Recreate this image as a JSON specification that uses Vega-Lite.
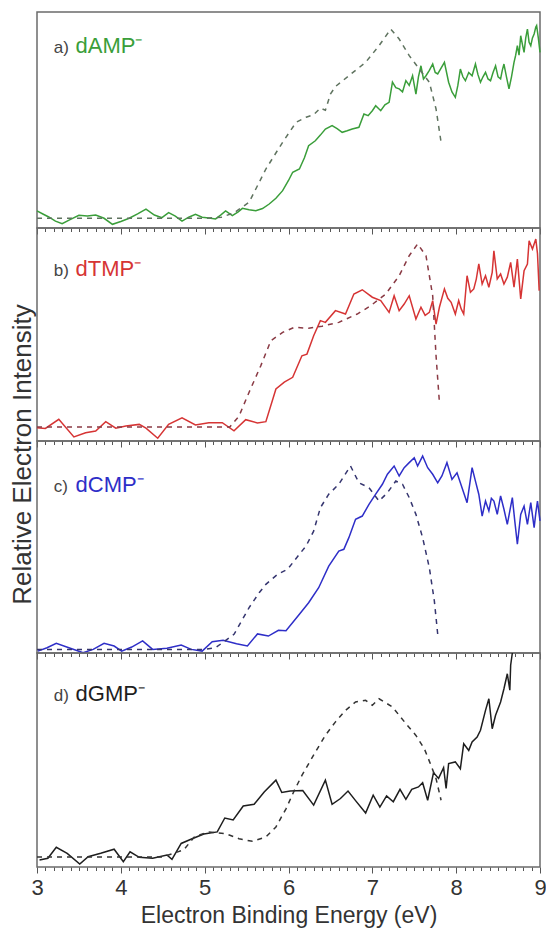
{
  "$schema": "https://vega.github.io/schema/vega-lite/v6.json",
  "padding": {"left": 8, "top": 11, "right": 0, "bottom": 0},
  "spacing": 0,
  "bounds": "flush",
  "config": {
    "font": "Liberation Sans",
    "view": {"stroke": "#6b6b6b", "strokeWidth": 1.5}
  },
  "resolve": {"scale": {"x": "independent", "y": "independent"}, "axis": {"x": "independent", "y": "independent"}},
  "datasets": {
    "a_s": [{"E":3.00,"I":7.9},{"E":3.07,"I":6.5},{"E":3.14,"I":5.1},{"E":3.22,"I":3.2},{"E":3.30,"I":2.0},{"E":3.40,"I":4.0},{"E":3.50,"I":5.9},{"E":3.60,"I":5.6},{"E":3.70,"I":6.0},{"E":3.80,"I":4.5},{"E":3.90,"I":1.7},{"E":4.00,"I":3.0},{"E":4.10,"I":4.5},{"E":4.20,"I":6.5},{"E":4.30,"I":8.7},{"E":4.40,"I":6.0},{"E":4.49,"I":4.8},{"E":4.57,"I":7.1},{"E":4.65,"I":5.5},{"E":4.73,"I":3.2},{"E":4.81,"I":5.0},{"E":4.89,"I":6.3},{"E":4.97,"I":5.0},{"E":5.05,"I":4.6},{"E":5.13,"I":4.2},{"E":5.19,"I":6.0},{"E":5.25,"I":7.9},{"E":5.33,"I":5.7},{"E":5.40,"I":7.5},{"E":5.45,"I":9.1},{"E":5.53,"I":8.5},{"E":5.61,"I":8.0},{"E":5.69,"I":9.0},{"E":5.77,"I":11.1},{"E":5.85,"I":13.8},{"E":5.93,"I":17.3},{"E":6.00,"I":22.0},{"E":6.05,"I":25.8},{"E":6.13,"I":27.3},{"E":6.19,"I":32.5},{"E":6.24,"I":38.1},{"E":6.32,"I":40.4},{"E":6.38,"I":43.0},{"E":6.44,"I":45.8},{"E":6.52,"I":47.4},{"E":6.58,"I":46.0},{"E":6.64,"I":44.3},{"E":6.70,"I":45.0},{"E":6.76,"I":45.8},{"E":6.84,"I":46.6},{"E":6.90,"I":52.8},{"E":6.95,"I":52.0},{"E":7.00,"I":54.3},{"E":7.04,"I":56.6},{"E":7.10,"I":54.3},{"E":7.15,"I":57.0},{"E":7.20,"I":58.2},{"E":7.24,"I":67.5},{"E":7.28,"I":65.0},{"E":7.32,"I":64.4},{"E":7.36,"I":63.0},{"E":7.40,"I":68.2},{"E":7.44,"I":66.0},{"E":7.48,"I":70.5},{"E":7.52,"I":62.0},{"E":7.55,"I":70.0},{"E":7.58,"I":75.1},{"E":7.61,"I":69.0},{"E":7.64,"I":70.5},{"E":7.68,"I":73.0},{"E":7.72,"I":75.9},{"E":7.75,"I":72.0},{"E":7.78,"I":71.3},{"E":7.82,"I":74.0},{"E":7.86,"I":76.7},{"E":7.91,"I":67.5},{"E":7.95,"I":63.0},{"E":7.99,"I":60.5},{"E":8.02,"I":66.0},{"E":8.05,"I":73.6},{"E":8.08,"I":70.0},{"E":8.11,"I":68.2},{"E":8.15,"I":72.0},{"E":8.19,"I":70.5},{"E":8.23,"I":75.9},{"E":8.26,"I":71.0},{"E":8.29,"I":67.5},{"E":8.32,"I":70.0},{"E":8.35,"I":72.1},{"E":8.38,"I":69.0},{"E":8.41,"I":68.2},{"E":8.44,"I":72.0},{"E":8.47,"I":75.1},{"E":8.50,"I":70.0},{"E":8.53,"I":69.0},{"E":8.55,"I":73.0},{"E":8.57,"I":75.9},{"E":8.60,"I":70.0},{"E":8.63,"I":64.4},{"E":8.66,"I":70.0},{"E":8.69,"I":76.7},{"E":8.71,"I":80.0},{"E":8.73,"I":84.4},{"E":8.75,"I":80.0},{"E":8.77,"I":89.0},{"E":8.79,"I":85.0},{"E":8.81,"I":81.3},{"E":8.83,"I":88.0},{"E":8.85,"I":92.1},{"E":8.87,"I":86.0},{"E":8.89,"I":84.4},{"E":8.91,"I":88.0},{"E":8.93,"I":89.8},{"E":8.95,"I":93.0},{"E":8.96,"I":93.7},{"E":8.98,"I":88.0},{"E":9.00,"I":81.3}],
    "a_d": [{"E":3.0,"I":4.5},{"E":3.5,"I":4.5},{"E":4.0,"I":4.5},{"E":4.5,"I":4.5},{"E":5.0,"I":4.5},{"E":5.2,"I":5.0},{"E":5.35,"I":7.0},{"E":5.53,"I":11.9},{"E":5.73,"I":27.3},{"E":5.93,"I":39.7},{"E":6.09,"I":48.9},{"E":6.21,"I":51.3},{"E":6.30,"I":52.5},{"E":6.38,"I":55.5},{"E":6.44,"I":54.5},{"E":6.50,"I":62.0},{"E":6.56,"I":65.5},{"E":6.72,"I":70.5},{"E":6.92,"I":76.7},{"E":7.08,"I":84.4},{"E":7.22,"I":92.1},{"E":7.32,"I":87.5},{"E":7.44,"I":79.8},{"E":7.56,"I":73.6},{"E":7.68,"I":67.5},{"E":7.76,"I":55.1},{"E":7.82,"I":39.7}],
    "b_s": [{"E":3.00,"I":6.2},{"E":3.10,"I":5.9},{"E":3.26,"I":10.2},{"E":3.44,"I":1.9},{"E":3.58,"I":3.9},{"E":3.70,"I":4.7},{"E":3.82,"I":9.1},{"E":3.94,"I":6.0},{"E":4.06,"I":7.0},{"E":4.22,"I":7.8},{"E":4.30,"I":6.0},{"E":4.44,"I":1.3},{"E":4.57,"I":7.8},{"E":4.73,"I":10.9},{"E":4.89,"I":7.5},{"E":5.05,"I":8.6},{"E":5.21,"I":8.6},{"E":5.35,"I":4.8},{"E":5.49,"I":10.0},{"E":5.63,"I":8.5},{"E":5.73,"I":9.1},{"E":5.85,"I":24.4},{"E":5.95,"I":27.6},{"E":6.05,"I":29.9},{"E":6.16,"I":40.0},{"E":6.22,"I":40.8},{"E":6.30,"I":49.4},{"E":6.38,"I":56.5},{"E":6.44,"I":55.7},{"E":6.56,"I":61.2},{"E":6.68,"I":59.6},{"E":6.78,"I":69.0},{"E":6.88,"I":71.0},{"E":7.00,"I":67.5},{"E":7.10,"I":65.9},{"E":7.20,"I":60.4},{"E":7.26,"I":68.2},{"E":7.32,"I":61.2},{"E":7.38,"I":64.3},{"E":7.44,"I":68.2},{"E":7.52,"I":57.3},{"E":7.58,"I":62.8},{"E":7.63,"I":59.0},{"E":7.68,"I":60.4},{"E":7.72,"I":65.9},{"E":7.76,"I":54.9},{"E":7.80,"I":62.8},{"E":7.86,"I":71.4},{"E":7.90,"I":67.0},{"E":7.94,"I":65.1},{"E":7.99,"I":59.6},{"E":8.03,"I":65.9},{"E":8.06,"I":62.0},{"E":8.09,"I":59.6},{"E":8.13,"I":77.6},{"E":8.17,"I":69.8},{"E":8.21,"I":71.4},{"E":8.24,"I":76.0},{"E":8.27,"I":83.1},{"E":8.31,"I":73.7},{"E":8.35,"I":77.6},{"E":8.39,"I":72.2},{"E":8.43,"I":79.2},{"E":8.45,"I":89.3},{"E":8.49,"I":76.1},{"E":8.53,"I":78.4},{"E":8.57,"I":73.7},{"E":8.61,"I":76.9},{"E":8.65,"I":83.9},{"E":8.69,"I":72.2},{"E":8.73,"I":85.4},{"E":8.77,"I":66.7},{"E":8.81,"I":80.0},{"E":8.85,"I":83.1},{"E":8.87,"I":94.0},{"E":8.91,"I":90.1},{"E":8.95,"I":94.8},{"E":8.97,"I":88.0},{"E":8.99,"I":70.6}],
    "b_d": [{"E":3.0,"I":6.6},{"E":3.5,"I":6.6},{"E":4.0,"I":6.6},{"E":4.5,"I":6.6},{"E":5.0,"I":6.6},{"E":5.3,"I":6.6},{"E":5.41,"I":11.7},{"E":5.53,"I":22.9},{"E":5.67,"I":35.4},{"E":5.79,"I":47.1},{"E":5.93,"I":51.0},{"E":6.07,"I":53.4},{"E":6.24,"I":52.9},{"E":6.40,"I":53.9},{"E":6.60,"I":55.7},{"E":6.82,"I":59.6},{"E":6.98,"I":63.5},{"E":7.16,"I":69.0},{"E":7.32,"I":77.6},{"E":7.44,"I":87.0},{"E":7.54,"I":92.5},{"E":7.64,"I":87.0},{"E":7.72,"I":68.2},{"E":7.76,"I":40.0},{"E":7.80,"I":18.2}],
    "c_s": [{"E":3.01,"I":0.9},{"E":3.12,"I":2.5},{"E":3.23,"I":4.6},{"E":3.38,"I":2.5},{"E":3.55,"I":0.1},{"E":3.67,"I":1.7},{"E":3.80,"I":4.6},{"E":3.92,"I":3.3},{"E":4.01,"I":0.9},{"E":4.13,"I":2.8},{"E":4.26,"I":5.7},{"E":4.38,"I":1.7},{"E":4.55,"I":2.2},{"E":4.72,"I":3.8},{"E":4.84,"I":1.7},{"E":4.97,"I":0.9},{"E":5.09,"I":5.3},{"E":5.22,"I":6.0},{"E":5.38,"I":4.4},{"E":5.51,"I":3.3},{"E":5.63,"I":9.0},{"E":5.76,"I":8.0},{"E":5.88,"I":10.7},{"E":5.97,"I":10.5},{"E":6.13,"I":18.3},{"E":6.24,"I":23.7},{"E":6.36,"I":30.8},{"E":6.48,"I":41.0},{"E":6.60,"I":48.1},{"E":6.66,"I":48.9},{"E":6.72,"I":54.4},{"E":6.80,"I":63.1},{"E":6.88,"I":64.6},{"E":6.96,"I":70.1},{"E":7.04,"I":74.9},{"E":7.12,"I":79.6},{"E":7.18,"I":84.3},{"E":7.26,"I":88.2},{"E":7.32,"I":83.5},{"E":7.38,"I":87.4},{"E":7.44,"I":89.8},{"E":7.50,"I":92.1},{"E":7.54,"I":88.2},{"E":7.60,"I":92.9},{"E":7.66,"I":87.4},{"E":7.72,"I":84.3},{"E":7.78,"I":80.3},{"E":7.83,"I":83.5},{"E":7.89,"I":89.8},{"E":7.95,"I":81.9},{"E":8.01,"I":85.0},{"E":8.07,"I":78.0},{"E":8.13,"I":70.9},{"E":8.19,"I":87.4},{"E":8.23,"I":81.1},{"E":8.27,"I":74.9},{"E":8.31,"I":64.6},{"E":8.35,"I":71.7},{"E":8.39,"I":67.0},{"E":8.42,"I":73.0},{"E":8.45,"I":71.7},{"E":8.49,"I":65.4},{"E":8.53,"I":74.1},{"E":8.57,"I":67.8},{"E":8.61,"I":60.7},{"E":8.67,"I":73.3},{"E":8.70,"I":62.0},{"E":8.73,"I":51.3},{"E":8.77,"I":65.4},{"E":8.81,"I":69.3},{"E":8.85,"I":60.7},{"E":8.89,"I":70.9},{"E":8.93,"I":59.1},{"E":8.95,"I":66.0},{"E":8.97,"I":71.7},{"E":9.00,"I":62.3}],
    "c_d": [{"E":3.0,"I":1.7},{"E":3.5,"I":1.7},{"E":4.0,"I":1.7},{"E":4.5,"I":1.7},{"E":5.0,"I":1.7},{"E":5.13,"I":2.5},{"E":5.35,"I":8.8},{"E":5.53,"I":21.4},{"E":5.65,"I":28.4},{"E":5.73,"I":32.4},{"E":5.87,"I":37.1},{"E":5.99,"I":39.5},{"E":6.13,"I":46.6},{"E":6.21,"I":50.5},{"E":6.30,"I":57.5},{"E":6.38,"I":68.5},{"E":6.48,"I":74.9},{"E":6.60,"I":79.6},{"E":6.74,"I":88.2},{"E":6.84,"I":80.3},{"E":6.96,"I":78.0},{"E":7.08,"I":71.7},{"E":7.18,"I":75.6},{"E":7.28,"I":81.1},{"E":7.36,"I":79.6},{"E":7.44,"I":73.3},{"E":7.52,"I":65.4},{"E":7.60,"I":54.4},{"E":7.68,"I":40.2},{"E":7.74,"I":24.5},{"E":7.78,"I":8.8}],
    "d_s": [{"E":3.03,"I":3.3},{"E":3.13,"I":4.1},{"E":3.23,"I":9.2},{"E":3.36,"I":6.4},{"E":3.51,"I":1.4},{"E":3.61,"I":4.8},{"E":3.76,"I":6.4},{"E":3.92,"I":8.3},{"E":4.03,"I":2.5},{"E":4.11,"I":7.1},{"E":4.22,"I":4.5},{"E":4.38,"I":4.1},{"E":4.55,"I":5.6},{"E":4.61,"I":3.6},{"E":4.72,"I":11.0},{"E":4.85,"I":13.2},{"E":4.99,"I":15.4},{"E":5.15,"I":16.4},{"E":5.24,"I":22.9},{"E":5.34,"I":22.0},{"E":5.46,"I":28.5},{"E":5.59,"I":29.3},{"E":5.71,"I":35.0},{"E":5.85,"I":40.6},{"E":5.92,"I":34.8},{"E":6.02,"I":35.5},{"E":6.17,"I":35.7},{"E":6.30,"I":28.9},{"E":6.44,"I":40.6},{"E":6.52,"I":29.3},{"E":6.62,"I":32.0},{"E":6.71,"I":35.5},{"E":6.80,"I":31.0},{"E":6.92,"I":25.2},{"E":7.01,"I":33.6},{"E":7.09,"I":28.0},{"E":7.17,"I":33.2},{"E":7.25,"I":30.5},{"E":7.33,"I":36.3},{"E":7.40,"I":31.6},{"E":7.47,"I":36.3},{"E":7.55,"I":37.4},{"E":7.60,"I":39.4},{"E":7.66,"I":31.2},{"E":7.73,"I":44.1},{"E":7.79,"I":41.4},{"E":7.85,"I":46.4},{"E":7.88,"I":36.7},{"E":7.91,"I":48.3},{"E":7.99,"I":49.1},{"E":8.05,"I":45.9},{"E":8.09,"I":57.6},{"E":8.15,"I":54.5},{"E":8.19,"I":58.4},{"E":8.25,"I":60.7},{"E":8.29,"I":63.9},{"E":8.35,"I":73.2},{"E":8.39,"I":78.6},{"E":8.43,"I":64.6},{"E":8.47,"I":70.9},{"E":8.53,"I":77.1},{"E":8.57,"I":83.3},{"E":8.61,"I":90.3},{"E":8.64,"I":82.6},{"E":8.65,"I":94.3},{"E":8.67,"I":100.0}],
    "d_d": [{"E":3.0,"I":4.7},{"E":3.5,"I":4.7},{"E":4.0,"I":4.7},{"E":4.5,"I":4.7},{"E":4.75,"I":8.0},{"E":4.88,"I":14.2},{"E":5.05,"I":16.4},{"E":5.25,"I":15.6},{"E":5.41,"I":13.2},{"E":5.57,"I":12.0},{"E":5.73,"I":14.0},{"E":5.85,"I":18.7},{"E":5.97,"I":27.2},{"E":6.07,"I":35.8},{"E":6.16,"I":42.8},{"E":6.32,"I":53.7},{"E":6.44,"I":61.5},{"E":6.56,"I":67.8},{"E":6.68,"I":73.2},{"E":6.80,"I":77.1},{"E":6.92,"I":77.9},{"E":7.00,"I":75.6},{"E":7.08,"I":78.6},{"E":7.24,"I":74.8},{"E":7.40,"I":67.0},{"E":7.52,"I":61.5},{"E":7.62,"I":55.3},{"E":7.70,"I":47.5},{"E":7.76,"I":41.3},{"E":7.82,"I":31.2}]
  },
  "vconcat": [
    {
      "width": 503, "height": 216,
      "resolve": {"axis": {"x": "independent"}},
      "layer": [
        {"data": {"name": "a_s"}, "mark": {"type": "line", "color": "#3a9e3a", "strokeWidth": 1.5},
         "encoding": {
           "x": {"field": "E", "type": "quantitative", "scale": {"domain": [3, 9], "nice": false},
                 "axis": {"orient": "bottom", "values": [3,4,5,6,7,8,9], "labels": false, "title": null, "domain": false, "grid": false, "tickColor": "#555", "tickWidth": 1, "tickSize": 6}},
           "y": {"field": "I", "type": "quantitative", "scale": {"domain": [0, 100], "nice": false},
                 "axis": {"title": null, "labels": false, "ticks": false, "domain": false, "grid": false}}
         }},
        {"data": {"name": "a_d"}, "mark": {"type": "line", "color": "#5f735f", "strokeWidth": 1.5, "strokeDash": [5, 5]},
         "encoding": {
           "x": {"field": "E", "type": "quantitative",
                 "axis": {"orient": "bottom", "values": [3.1,3.2,3.3,3.4,3.5,3.6,3.7,3.8,3.9,4.1,4.2,4.3,4.4,4.5,4.6,4.7,4.8,4.9,5.1,5.2,5.3,5.4,5.5,5.6,5.7,5.8,5.9,6.1,6.2,6.3,6.4,6.5,6.6,6.7,6.8,6.9,7.1,7.2,7.3,7.4,7.5,7.6,7.7,7.8,7.9,8.1,8.2,8.3,8.4,8.5,8.6,8.7,8.8,8.9], "labels": false, "title": null, "domain": false, "grid": false, "tickColor": "#555", "tickWidth": 1, "tickSize": 3.5}},
           "y": {"field": "I", "type": "quantitative"}}},
        {"data": {"values": [{"t": "a)"}]}, "mark": {"type": "text", "align": "left", "baseline": "alphabetic", "fontSize": 17, "color": "#444"},
         "encoding": {"x": {"datum": 3.2, "type": "quantitative", "axis": null}, "y": {"datum": 81, "type": "quantitative"}, "text": {"field": "t"}}},
        {"data": {"values": [{"t": "dAMP⁻"}]}, "mark": {"type": "text", "align": "left", "baseline": "alphabetic", "fontSize": 22, "color": "#3a9e3a"},
         "encoding": {"x": {"datum": 3.46, "type": "quantitative", "axis": null}, "y": {"datum": 81, "type": "quantitative"}, "text": {"field": "t"}}}
      ]
    },
    {
      "width": 503, "height": 213,
      "resolve": {"axis": {"x": "independent"}},
      "layer": [
        {"data": {"name": "b_s"}, "mark": {"type": "line", "color": "#d63434", "strokeWidth": 1.5},
         "encoding": {
           "x": {"field": "E", "type": "quantitative", "scale": {"domain": [3, 9], "nice": false},
                 "axis": {"orient": "bottom", "values": [3,4,5,6,7,8,9], "labels": false, "title": null, "domain": false, "grid": false, "tickColor": "#555", "tickWidth": 1, "tickSize": 6}},
           "y": {"field": "I", "type": "quantitative", "scale": {"domain": [0, 100], "nice": false},
                 "axis": {"title": "Relative Electron Intensity", "labels": false, "ticks": false, "domain": false, "grid": false,
                          "titleFontSize": 26, "titleFontWeight": "normal", "titleColor": "#333", "titleX": -7, "titleY": 226, "titleAngle": 270, "titleBaseline": "alphabetic", "titleAlign": "center"}}
         }},
        {"data": {"name": "b_d"}, "mark": {"type": "line", "color": "#8a3a44", "strokeWidth": 1.5, "strokeDash": [5, 5]},
         "encoding": {
           "x": {"field": "E", "type": "quantitative",
                 "axis": {"orient": "bottom", "values": [3.1,3.2,3.3,3.4,3.5,3.6,3.7,3.8,3.9,4.1,4.2,4.3,4.4,4.5,4.6,4.7,4.8,4.9,5.1,5.2,5.3,5.4,5.5,5.6,5.7,5.8,5.9,6.1,6.2,6.3,6.4,6.5,6.6,6.7,6.8,6.9,7.1,7.2,7.3,7.4,7.5,7.6,7.7,7.8,7.9,8.1,8.2,8.3,8.4,8.5,8.6,8.7,8.8,8.9], "labels": false, "title": null, "domain": false, "grid": false, "tickColor": "#555", "tickWidth": 1, "tickSize": 3.5}},
           "y": {"field": "I", "type": "quantitative"}}},
        {"data": {"values": [{"t": "b)"}]}, "mark": {"type": "text", "align": "left", "baseline": "alphabetic", "fontSize": 17, "color": "#444"},
         "encoding": {"x": {"datum": 3.2, "type": "quantitative", "axis": null}, "y": {"datum": 77.5, "type": "quantitative"}, "text": {"field": "t"}}},
        {"data": {"values": [{"t": "dTMP⁻"}]}, "mark": {"type": "text", "align": "left", "baseline": "alphabetic", "fontSize": 22, "color": "#d63434"},
         "encoding": {"x": {"datum": 3.46, "type": "quantitative", "axis": null}, "y": {"datum": 77.5, "type": "quantitative"}, "text": {"field": "t"}}}
      ]
    },
    {
      "width": 503, "height": 212,
      "resolve": {"axis": {"x": "independent"}},
      "layer": [
        {"data": {"name": "c_s"}, "mark": {"type": "line", "color": "#2e2ec8", "strokeWidth": 1.5},
         "encoding": {
           "x": {"field": "E", "type": "quantitative", "scale": {"domain": [3, 9], "nice": false},
                 "axis": {"orient": "bottom", "values": [3,4,5,6,7,8,9], "labels": false, "title": null, "domain": false, "grid": false, "tickColor": "#555", "tickWidth": 1, "tickSize": 6}},
           "y": {"field": "I", "type": "quantitative", "scale": {"domain": [0, 100], "nice": false},
                 "axis": {"title": null, "labels": false, "ticks": false, "domain": false, "grid": false}}
         }},
        {"data": {"name": "c_d"}, "mark": {"type": "line", "color": "#35356f", "strokeWidth": 1.5, "strokeDash": [5, 5]},
         "encoding": {
           "x": {"field": "E", "type": "quantitative",
                 "axis": {"orient": "bottom", "values": [3.1,3.2,3.3,3.4,3.5,3.6,3.7,3.8,3.9,4.1,4.2,4.3,4.4,4.5,4.6,4.7,4.8,4.9,5.1,5.2,5.3,5.4,5.5,5.6,5.7,5.8,5.9,6.1,6.2,6.3,6.4,6.5,6.6,6.7,6.8,6.9,7.1,7.2,7.3,7.4,7.5,7.6,7.7,7.8,7.9,8.1,8.2,8.3,8.4,8.5,8.6,8.7,8.8,8.9], "labels": false, "title": null, "domain": false, "grid": false, "tickColor": "#555", "tickWidth": 1, "tickSize": 3.5}},
           "y": {"field": "I", "type": "quantitative"}}},
        {"data": {"values": [{"t": "c)"}]}, "mark": {"type": "text", "align": "left", "baseline": "alphabetic", "fontSize": 17, "color": "#444"},
         "encoding": {"x": {"datum": 3.2, "type": "quantitative", "axis": null}, "y": {"datum": 76, "type": "quantitative"}, "text": {"field": "t"}}},
        {"data": {"values": [{"t": "dCMP⁻"}]}, "mark": {"type": "text", "align": "left", "baseline": "alphabetic", "fontSize": 22, "color": "#2e2ec8"},
         "encoding": {"x": {"datum": 3.46, "type": "quantitative", "axis": null}, "y": {"datum": 76, "type": "quantitative"}, "text": {"field": "t"}}}
      ]
    },
    {
      "width": 503, "height": 214,
      "resolve": {"axis": {"x": "independent"}},
      "layer": [
        {"data": {"name": "d_s"}, "mark": {"type": "line", "color": "#1e1e1e", "strokeWidth": 1.5},
         "encoding": {
           "x": {"field": "E", "type": "quantitative", "scale": {"domain": [3, 9], "nice": false},
                 "axis": {"orient": "bottom", "values": [3,4,5,6,7,8,9], "format": "d",
                          "labelFontSize": 22, "labelColor": "#333", "labelFlush": false, "labelOverlap": false, "labelPadding": 4,
                          "title": "Electron Binding Energy (eV)", "titleFontSize": 23, "titleFontWeight": "normal", "titleColor": "#333", "titlePadding": 6,
                          "domain": false, "grid": false, "tickColor": "#555", "tickWidth": 1, "tickSize": 6}},
           "y": {"field": "I", "type": "quantitative", "scale": {"domain": [0, 100], "nice": false},
                 "axis": {"title": null, "labels": false, "ticks": false, "domain": false, "grid": false}}
         }},
        {"data": {"name": "d_d"}, "mark": {"type": "line", "color": "#333333", "strokeWidth": 1.5, "strokeDash": [5, 5]},
         "encoding": {
           "x": {"field": "E", "type": "quantitative",
                 "axis": {"orient": "bottom", "values": [3.1,3.2,3.3,3.4,3.5,3.6,3.7,3.8,3.9,4.1,4.2,4.3,4.4,4.5,4.6,4.7,4.8,4.9,5.1,5.2,5.3,5.4,5.5,5.6,5.7,5.8,5.9,6.1,6.2,6.3,6.4,6.5,6.6,6.7,6.8,6.9,7.1,7.2,7.3,7.4,7.5,7.6,7.7,7.8,7.9,8.1,8.2,8.3,8.4,8.5,8.6,8.7,8.8,8.9], "labels": false, "title": null, "domain": false, "grid": false, "tickColor": "#555", "tickWidth": 1, "tickSize": 3.5}},
           "y": {"field": "I", "type": "quantitative"}}},
        {"data": {"values": [{"t": "d)"}]}, "mark": {"type": "text", "align": "left", "baseline": "alphabetic", "fontSize": 17, "color": "#444"},
         "encoding": {"x": {"datum": 3.2, "type": "quantitative", "axis": null}, "y": {"datum": 77.6, "type": "quantitative"}, "text": {"field": "t"}}},
        {"data": {"values": [{"t": "dGMP⁻"}]}, "mark": {"type": "text", "align": "left", "baseline": "alphabetic", "fontSize": 22, "color": "#1e1e1e"},
         "encoding": {"x": {"datum": 3.46, "type": "quantitative", "axis": null}, "y": {"datum": 77.6, "type": "quantitative"}, "text": {"field": "t"}}}
      ]
    }
  ]
}
